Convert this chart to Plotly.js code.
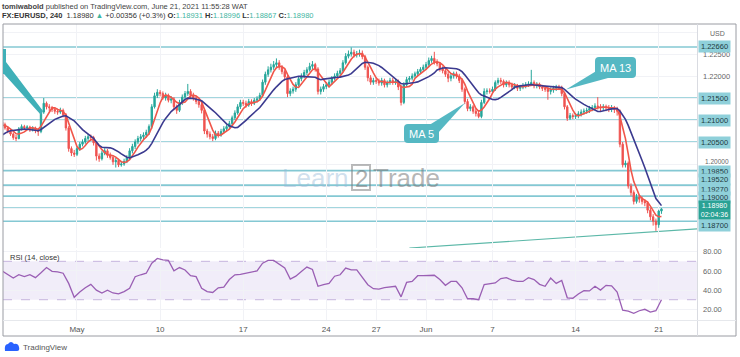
<!DOCTYPE html>
<html><head><meta charset="utf-8">
<script src="https://cdn.plot.ly/plotly-3.0.1.min.js"></script>
<style>html,body{margin:0;padding:0;background:#fff;}#chart{width:740px;height:357px;}</style>
</head><body><div id="chart"></div>
<script>
// ---------- DATA (EURUSD, 4h candles; bar 0 = first candle of May 3) ----------
const firstBar = -27;
const open = [1.2095,1.2090,1.2082,
1.2075,1.2068,1.2060,1.2058,1.2080,1.2085,
1.2082,1.2084,1.2078,1.2082,1.2076,1.2074,
1.2118,1.2138,1.2130,1.2128,1.2124,1.2120,
1.2118,1.2122,1.2112,1.2082,1.2035,1.2025,
1.2022,1.2035,1.2045,1.2050,1.2058,1.2062,
1.2060,1.2048,1.2018,1.2012,1.2025,1.2030,
1.2020,1.2015,1.2005,1.2008,1.1998,1.2000,
1.2006,1.2014,1.2030,1.2040,1.2050,1.2058,
1.2062,1.2066,1.2072,1.2085,1.2130,1.2155,
1.2163,1.2160,1.2150,1.2156,1.2145,1.2148,
1.2130,1.2122,1.2140,1.2152,1.2160,1.2165,
1.2156,1.2150,1.2142,1.2135,1.2122,1.2075,
1.2068,1.2062,1.2058,1.2070,1.2066,1.2074,
1.2080,1.2085,1.2092,1.2105,1.2116,1.2130,
1.2140,1.2138,1.2134,1.2142,1.2138,1.2145,
1.2148,1.2156,1.2186,1.2204,1.2214,1.2220,
1.2226,1.2230,1.2220,1.2210,1.2198,1.2160,
1.2166,1.2170,1.2180,1.2194,1.2200,1.2208,
1.2214,1.2222,1.2226,1.2216,1.2165,1.2170,
1.2176,1.2180,1.2186,1.2195,1.2200,1.2206,
1.2212,1.2230,1.2245,1.2250,1.2254,1.2248,
1.2250,1.2252,1.2244,1.2220,1.2196,1.2186,
1.2190,1.2188,1.2184,1.2190,1.2180,1.2185,
1.2190,1.2186,1.2188,1.2175,1.2140,1.2180,
1.2192,1.2195,1.2200,1.2205,1.2210,1.2215,
1.2220,1.2226,1.2235,1.2240,1.2232,1.2228,
1.2216,1.2212,1.2204,1.2195,1.2200,1.2205,
1.2200,1.2190,1.2170,1.2142,1.2126,1.2130,
1.2120,1.2115,1.2108,1.2140,1.2165,1.2166,
1.2165,1.2170,1.2185,1.2190,1.2188,1.2180,
1.2185,1.2180,1.2175,1.2178,1.2172,1.2175,
1.2178,1.2180,1.2182,1.2185,1.2178,1.2180,
1.2175,1.2172,1.2170,1.2165,1.2168,1.2172,
1.2175,1.2174,1.2160,1.2130,1.2104,1.2110,
1.2108,1.2110,1.2114,1.2118,1.2120,1.2122,
1.2126,1.2128,1.2132,1.2130,1.2128,1.2130,
1.2128,1.2125,1.2128,1.2124,1.2120,1.2045,
1.1998,1.2002,1.1950,1.1935,1.1915,1.1925,
1.1920,1.1915,1.1912,1.1895,1.1880,1.1870,
1.1862,1.18931];
const high = [1.2100,1.2094,1.2086,
1.2080,1.2072,1.2066,1.2084,1.2090,1.2089,
1.2088,1.2087,1.2086,1.2085,1.2080,1.2124,
1.2150,1.2142,1.2136,1.2132,1.2128,1.2126,
1.2128,1.2126,1.2116,1.2086,1.2040,1.2032,
1.2040,1.2050,1.2056,1.2064,1.2068,1.2067,
1.2064,1.2052,1.2024,1.2030,1.2036,1.2034,
1.2026,1.2020,1.2014,1.2012,1.2006,1.2012,
1.2020,1.2036,1.2046,1.2056,1.2064,1.2068,
1.2072,1.2078,1.2090,1.2136,1.2162,1.2170,
1.2168,1.2165,1.2162,1.2160,1.2154,1.2152,
1.2135,1.2146,1.2158,1.2166,1.2182,1.2170,
1.2162,1.2155,1.2148,1.2140,1.2126,1.2080,
1.2074,1.2068,1.2076,1.2075,1.2080,1.2086,
1.2090,1.2098,1.2110,1.2122,1.2136,1.2146,
1.2146,1.2144,1.2148,1.2147,1.2150,1.2154,
1.2162,1.2192,1.2210,1.2222,1.2228,1.2234,
1.2240,1.2236,1.2225,1.2215,1.2202,1.2172,
1.2176,1.2186,1.2200,1.2206,1.2214,1.2220,
1.2230,1.2234,1.2230,1.2220,1.2176,1.2182,
1.2186,1.2192,1.2200,1.2206,1.2212,1.2218,
1.2236,1.2252,1.2258,1.2265,1.2260,1.2257,
1.2260,1.2258,1.2248,1.2224,1.2202,1.2196,
1.2196,1.2194,1.2196,1.2194,1.2190,1.2196,
1.2196,1.2194,1.2192,1.2180,1.2186,1.2198,
1.2200,1.2206,1.2210,1.2216,1.2220,1.2226,
1.2232,1.2242,1.2246,1.2255,1.2238,1.2232,
1.2222,1.2216,1.2210,1.2206,1.2210,1.2210,
1.2205,1.2194,1.2174,1.2148,1.2136,1.2134,
1.2126,1.2120,1.2146,1.2172,1.2172,1.2172,
1.2176,1.2190,1.2196,1.2196,1.2192,1.2190,
1.2190,1.2185,1.2184,1.2182,1.2180,1.2184,
1.2186,1.2188,1.2214,1.2190,1.2186,1.2185,
1.2180,1.2178,1.2176,1.2174,1.2178,1.2180,
1.2180,1.2178,1.2164,1.2134,1.2116,1.2115,
1.2116,1.2120,1.2124,1.2126,1.2128,1.2132,
1.2134,1.2138,1.2152,1.2136,1.2136,1.2135,
1.2134,1.2134,1.2132,1.2130,1.2124,1.2050,
1.2008,1.2006,1.1956,1.1940,1.1932,1.1930,
1.1926,1.1920,1.1916,1.1900,1.1886,1.1876,
1.1896,1.18996];
const low = [1.2086,1.2078,1.2070,
1.2064,1.2055,1.2052,1.2056,1.2076,1.2077,
1.2078,1.2073,1.2074,1.2070,1.2064,1.2070,
1.2114,1.2124,1.2120,1.2118,1.2114,1.2112,
1.2114,1.2106,1.2076,1.2028,1.2018,1.2016,
1.2018,1.2030,1.2040,1.2046,1.2052,1.2054,
1.2042,1.2008,1.2005,1.2008,1.2020,1.2014,
1.2010,1.1998,1.1992,1.1993,1.1994,1.1996,
1.2002,1.2010,1.2024,1.2034,1.2045,1.2052,
1.2056,1.2060,1.2066,1.2080,1.2126,1.2150,
1.2154,1.2146,1.2144,1.2140,1.2138,1.2122,
1.2114,1.2118,1.2134,1.2146,1.2155,1.2150,
1.2144,1.2136,1.2128,1.2115,1.2068,1.2060,
1.2056,1.2052,1.2054,1.2060,1.2062,1.2070,
1.2075,1.2080,1.2088,1.2100,1.2112,1.2125,
1.2132,1.2128,1.2130,1.2132,1.2134,1.2140,
1.2144,1.2152,1.2180,1.2198,1.2208,1.2214,
1.2220,1.2214,1.2204,1.2190,1.2152,1.2154,
1.2160,1.2164,1.2176,1.2188,1.2195,1.2202,
1.2210,1.2216,1.2210,1.2158,1.2158,1.2164,
1.2170,1.2174,1.2180,1.2190,1.2196,1.2200,
1.2208,1.2226,1.2240,1.2244,1.2242,1.2242,
1.2244,1.2238,1.2214,1.2188,1.2180,1.2180,
1.2182,1.2178,1.2178,1.2174,1.2174,1.2180,
1.2180,1.2180,1.2168,1.2133,1.2136,1.2176,
1.2186,1.2190,1.2196,1.2200,1.2205,1.2210,
1.2214,1.2220,1.2230,1.2226,1.2222,1.2210,
1.2206,1.2198,1.2186,1.2188,1.2194,1.2194,
1.2184,1.2164,1.2136,1.2120,1.2120,1.2114,
1.2108,1.2104,1.2104,1.2136,1.2158,1.2160,
1.2160,1.2166,1.2180,1.2182,1.2174,1.2175,
1.2174,1.2170,1.2170,1.2166,1.2166,1.2170,
1.2172,1.2175,1.2178,1.2172,1.2172,1.2170,
1.2166,1.2164,1.2146,1.2158,1.2162,1.2166,
1.2168,1.2154,1.2124,1.2098,1.2100,1.2102,
1.2102,1.2104,1.2108,1.2112,1.2114,1.2116,
1.2120,1.2122,1.2124,1.2120,1.2122,1.2120,
1.2118,1.2118,1.2116,1.2110,1.2038,1.1992,
1.1992,1.1944,1.1928,1.1908,1.1910,1.1912,
1.1908,1.1904,1.1888,1.1872,1.1860,1.1848,
1.1855,1.18867];
const close = [1.2090,1.2082,1.2075,
1.2068,1.2060,1.2058,1.2080,1.2085,1.2082,
1.2084,1.2078,1.2082,1.2076,1.2074,1.2118,
1.2138,1.2130,1.2128,1.2124,1.2120,1.2118,
1.2122,1.2112,1.2082,1.2035,1.2025,1.2022,
1.2035,1.2045,1.2050,1.2058,1.2062,1.2060,
1.2048,1.2018,1.2012,1.2025,1.2030,1.2020,
1.2015,1.2005,1.2008,1.1998,1.2000,1.2006,
1.2014,1.2030,1.2040,1.2050,1.2058,1.2062,
1.2066,1.2072,1.2085,1.2130,1.2155,1.2163,
1.2160,1.2150,1.2156,1.2145,1.2148,1.2130,
1.2122,1.2140,1.2152,1.2160,1.2165,1.2156,
1.2150,1.2142,1.2135,1.2122,1.2075,1.2068,
1.2062,1.2058,1.2070,1.2066,1.2074,1.2080,
1.2085,1.2092,1.2105,1.2116,1.2130,1.2140,
1.2138,1.2134,1.2142,1.2138,1.2145,1.2148,
1.2156,1.2186,1.2204,1.2214,1.2220,1.2226,
1.2230,1.2220,1.2210,1.2198,1.2160,1.2166,
1.2170,1.2180,1.2194,1.2200,1.2208,1.2214,
1.2222,1.2226,1.2216,1.2165,1.2170,1.2176,
1.2180,1.2186,1.2195,1.2200,1.2206,1.2212,
1.2230,1.2245,1.2250,1.2254,1.2248,1.2250,
1.2252,1.2244,1.2220,1.2196,1.2186,1.2190,
1.2188,1.2184,1.2190,1.2180,1.2185,1.2190,
1.2186,1.2188,1.2175,1.2140,1.2180,1.2192,
1.2195,1.2200,1.2205,1.2210,1.2215,1.2220,
1.2226,1.2235,1.2240,1.2232,1.2228,1.2216,
1.2212,1.2204,1.2195,1.2200,1.2205,1.2200,
1.2190,1.2170,1.2142,1.2126,1.2130,1.2120,
1.2115,1.2108,1.2140,1.2165,1.2166,1.2165,
1.2170,1.2185,1.2190,1.2188,1.2180,1.2185,
1.2180,1.2175,1.2178,1.2172,1.2175,1.2178,
1.2180,1.2182,1.2185,1.2178,1.2180,1.2175,
1.2172,1.2170,1.2165,1.2168,1.2172,1.2175,
1.2174,1.2160,1.2130,1.2104,1.2110,1.2108,
1.2110,1.2114,1.2118,1.2120,1.2122,1.2126,
1.2128,1.2132,1.2130,1.2128,1.2130,1.2128,
1.2125,1.2128,1.2124,1.2120,1.2045,1.1998,
1.2002,1.1950,1.1935,1.1915,1.1925,1.1920,
1.1915,1.1912,1.1895,1.1880,1.1870,1.1862,
1.18931,1.18980];
// closes of the 12 bars before the visible window (inferred from where the MA lines start)
const warmupClose = [1.2025,1.2032,1.2040,1.2048,1.2055,1.2062,1.2068,1.2086,1.2085,1.2090,1.2088,1.2087];
// RSI(14) read every second bar, starting at firstBar
const rsiStep = 2;
const rsi = [60,56,52.6,56,54,56,53,58,63.5,59.5,59,57.6,47,32.5,
38,42.4,46,40,37,40,37,36,38.5,42,54,56,57.6,68,73,71.4,71,60,63.5,61,55,54,42,38.5,37.5,42.4,
43,51,56,56.5,57.6,58.5,60,68,71,71,67,63,51.5,54.5,59.5,64,61.5,44,45.6,47,54.5,56,63,61,61,
53.5,45.6,41.5,41,42.5,43,44,33,48,49,55,55,55.5,55.5,51,45,49,49,42.4,31,31,30,45.8,46.8,47.5,
52,53,50.5,49,49,53,51,46,44,52.6,47,50,32,31.5,36,39.5,39.2,44,40,45,44.5,38,19,18,15.8,18.5,
20,17,18.5,30];
const levels = [1.2266,1.215,1.21,1.205,1.1985,1.1952,1.1927,1.19,1.187];
const lastPrice = 1.18980, countdown = '02:04:36';
const dateTickBars = [0,30,60,90,108,126,150,180,210];
const dateTickText = ['May','10','17','24','27','Jun','7','14','21'];
const priceTicks = [1.19,1.195,1.2,1.205,1.21,1.215,1.22,1.225,1.23];
const priceTickText = ['','','','','','','1.22000','1.22500',''];
const roundPriceLabel = 1.2;   // scale label that sits just above the 1.19850 box
const rsiTicks = [20,40,60,80];
const rsiTickText = ['20.00','40.00','60.00','80.00'];
const rsiBand = [30,70];
const trendLine = {bar0:120, p0:1.1809, bar1:224, p1:1.18525};

// ---------- derived ----------
const bars = close.map((_, k) => firstBar + k);
const rsiBars = rsi.map((_, k) => firstBar + k * rsiStep);
const allClose = warmupClose.concat(close);
function sma(n){
  return close.map((_, k) => { const j = k + warmupClose.length; let s = 0;
    for (let t = j - n + 1; t <= j; t++) s += allClose[t]; return s / n; });
}

// ---------- layout helpers (pixel -> paper) ----------
const W = 740, H = 357;
const PX = x => x / W, PY = y => 1 - y / H;
function rr(x0,y0,x1,y1,r){
  return `M${PX(x0+r)},${PY(y0)} L${PX(x1-r)},${PY(y0)} Q${PX(x1)},${PY(y0)} ${PX(x1)},${PY(y0+r)} L${PX(x1)},${PY(y1-r)} Q${PX(x1)},${PY(y1)} ${PX(x1-r)},${PY(y1)} L${PX(x0+r)},${PY(y1)} Q${PX(x0)},${PY(y1)} ${PX(x0)},${PY(y1-r)} L${PX(x0)},${PY(y0+r)} Q${PX(x0)},${PY(y0)} ${PX(x0+r)},${PY(y0)} Z`;
}
function poly(pts){ return 'M' + pts.map(p => PX(p[0]) + ',' + PY(p[1])).join(' L') + ' Z'; }
const FONT = 'Liberation Sans, Arial, sans-serif';
const TEAL = '#55b8c3';
const LINE = '#84c8d3';

const traces = [
  {type:'candlestick', x:bars, open:open, high:high, low:low, close:close,
   xaxis:'x', yaxis:'y', whiskerwidth:0, hoverinfo:'skip', showlegend:false,
   increasing:{line:{color:'#26a69a', width:1}, fillcolor:'#26a69a'},
   decreasing:{line:{color:'#ef5350', width:1}, fillcolor:'#ef5350'}},
  {type:'scatter', mode:'lines', x:bars, y:sma(5), xaxis:'x', yaxis:'y',
   line:{color:'#f0564a', width:1.6}, hoverinfo:'skip', showlegend:false},
  {type:'scatter', mode:'lines', x:bars, y:sma(13), xaxis:'x', yaxis:'y',
   line:{color:'#3b3a8f', width:1.6}, hoverinfo:'skip', showlegend:false},
  {type:'scatter', mode:'lines', x:rsiBars, y:rsi, xaxis:'x', yaxis:'y2',
   line:{color:'#9a5fb4', width:1.3}, hoverinfo:'skip', showlegend:false}
];

const shapes = [];
const P = (o) => shapes.push(Object.assign({xref:'paper', yref:'paper'}, o));
// RSI band (paper x, data y)
shapes.push({type:'rect', xref:'paper', x0:PX(3), x1:PX(697), yref:'y2', y0:rsiBand[0], y1:rsiBand[1],
  fillcolor:'rgba(149,117,205,0.13)', line:{width:0}, layer:'below'});
rsiBand.forEach(v => shapes.push({type:'line', xref:'paper', x0:PX(3), x1:PX(697), yref:'y2', y0:v, y1:v,
  line:{color:'#c6b4dd', width:1, dash:'dash'}, layer:'below'}));
// horizontal levels
levels.forEach(v => shapes.push({type:'line', xref:'paper', x0:PX(3), x1:PX(697), yref:'y', y0:v, y1:v,
  line:{color:LINE, width:1.6}, layer:'below'}));
// trend line
shapes.push({type:'line', xref:'x', yref:'y', x0:trendLine.bar0, y0:trendLine.p0, x1:trendLine.bar1, y1:trendLine.p1,
  line:{color:'#5cb8a8', width:1.2}, layer:'below'});
// frame & separators
P({type:'rect', x0:PX(3), x1:PX(736), y0:PY(336), y1:PY(24), line:{color:'#9a9ca3', width:1}});
P({type:'line', x0:PX(697.5), x1:PX(697.5), y0:PY(336), y1:PY(24), line:{color:'#d9dbe1', width:1}});
P({type:'line', x0:PX(3), x1:PX(736), y0:PY(320.5), y1:PY(320.5), line:{color:'#e6e8ec', width:1}});
// callouts
P({type:'path', path:poly([[598,70],[608,78],[566,89.5]]), fillcolor:TEAL, line:{width:0}});
P({type:'path', path:rr(595,57,636,78,4), fillcolor:TEAL, line:{width:0}});
P({type:'path', path:poly([[426,127],[438,133],[465,103]]), fillcolor:TEAL, line:{width:0}});
P({type:'path', path:rr(404,124,439,143,4), fillcolor:TEAL, line:{width:0}});
P({type:'path', path:poly([[3,49],[6,49],[6,62],[43,111],[41,115],[4,74],[3,74]]), fillcolor:'#3fb0b8', line:{width:0}});
// watermark "2" box
P({type:'rect', x0:PX(352), x1:PX(370), y0:PY(190), y1:PY(165), line:{color:'rgba(120,120,120,0.5)', width:2}});
// TradingView logo (cloud)
P({type:'path',
  path:`M${PX(5)},${PY(351)} L${PX(17)},${PY(351)} Q${PX(20)},${PY(351)} ${PX(19)},${PY(347)} Q${PX(18)},${PY(343)} ${PX(14)},${PY(344)} Q${PX(11)},${PY(340)} ${PX(8)},${PY(344)} Q${PX(4)},${PY(344)} ${PX(5)},${PY(351)} Z`,
  fillcolor:'#2962ff', line:{width:0}});

const ann = [];
const A = (o) => ann.push(Object.assign({showarrow:false, xanchor:'center', yanchor:'middle',
  font:{family:FONT, size:8, color:'#333'}}, o));
// header
A({xref:'paper', yref:'paper', x:PX(0), y:PY(6), xanchor:'left',
   text:'<b>tomiwabold</b> published on TradingView.com, June 21, 2021 11:55:28 WAT', font:{family:FONT, size:7.5, color:'#444'}});
const g = s => `<span style="color:#3fb59f">${s}</span>`;
A({xref:'paper', yref:'paper', x:PX(0), y:PY(16), xanchor:'left',
   text:`<b>FX:EURUSD, 240</b>  1.18980 ${g('▲')} +0.00356 (+0.3%) <b>O:</b>${g('1.18931')} <b>H:</b>${g('1.18996')} <b>L:</b>${g('1.18867')} <b>C:</b>${g('1.18980')}`,
   font:{family:FONT, size:7.5, color:'#333'}});
// currency
A({xref:'paper', yref:'paper', x:PX(727), y:PY(33), xanchor:'right', text:'USD', font:{family:FONT, size:7, color:'#666'}});
// round scale label squeezed above the 1.19850 box
A({xref:'paper', yref:'y', x:PX(702.5), y:roundPriceLabel, xanchor:'left', yshift:2.5,
   text:roundPriceLabel.toFixed(5), font:{family:FONT, size:6.5, color:'#666'}});
// level labels
const shift = {'1.1952':6, '1.1927':7, '1.19':11, '1.187':-4};
levels.forEach(v => A({xref:'paper', yref:'y', x:PX(698), y:v, xanchor:'left',
   yshift:(shift[String(v)]||0) - (v === 1.1985 ? 1 : 0), text:v.toFixed(5), width:29, align:'center', bgcolor:'#8fd0da', borderpad:1,
   font:{family:FONT, size:7.5, color:'#1d3a40'}}));
A({xref:'paper', yref:'y', x:PX(698), y:lastPrice, xanchor:'left', yshift:-1,
   text:lastPrice.toFixed(5)+'<br>'+countdown, width:29, align:'center', bgcolor:'#2aa295', borderpad:1,
   font:{family:FONT, size:7, color:'#fff'}});
// callout texts
A({xref:'paper', yref:'paper', x:PX(615.5), y:PY(67.5), text:'MA 13', font:{family:FONT, size:11, color:'#fff'}});
A({xref:'paper', yref:'paper', x:PX(421.5), y:PY(133.5), text:'MA 5', font:{family:FONT, size:11, color:'#fff'}});
// RSI title
A({xref:'paper', yref:'paper', x:PX(8), y:PY(257), xanchor:'left', text:'RSI (14, close)', font:{family:FONT, size:7.5, color:'#333'}});
// watermark
A({xref:'paper', yref:'paper', x:PX(351), y:PY(178), xanchor:'right', text:'Learn', font:{family:FONT, size:26, color:'rgba(150,185,215,0.45)'}});
A({xref:'paper', yref:'paper', x:PX(361), y:PY(178), text:'2', font:{family:FONT, size:24, color:'rgba(110,110,110,0.55)'}});
A({xref:'paper', yref:'paper', x:PX(371), y:PY(178), xanchor:'left', text:'Trade', font:{family:FONT, size:26, color:'rgba(110,110,110,0.5)'}});
// bottom brand
A({xref:'paper', yref:'paper', x:PX(21), y:PY(347), xanchor:'left', text:'TradingView', font:{family:FONT, size:8, color:'#555'}});

const layout = {
  width:W, height:H, margin:{l:0, r:0, t:0, b:0}, paper_bgcolor:'#fff', plot_bgcolor:'#fff',
  font:{family:FONT, size:8, color:'#555'}, showlegend:false, dragmode:false, hovermode:false,
  xaxis:{domain:[PX(3), PX(697)], range:[-26.71, 223.83], anchor:'y2', rangeslider:{visible:false},
    tickvals:dateTickBars, ticktext:dateTickText, ticks:'', ticklabelstandoff:3,
    tickfont:{family:FONT, size:8, color:'#555'}, showgrid:true, gridcolor:'#f1f2f6', gridwidth:1,
    zeroline:false, showline:false},
  yaxis:{domain:[PY(248), PY(24)], range:[1.18091, 1.23182], side:'right', anchor:'x',
    tickvals:priceTicks, ticktext:priceTickText, ticks:'', ticklabelstandoff:5,
    tickfont:{family:FONT, size:7.5, color:'#666'}, showgrid:true, gridcolor:'#f1f2f6', zeroline:false, showline:false},
  yaxis2:{domain:[PY(320), PY(250)], range:[8.85, 81.8], side:'right', anchor:'x',
    tickvals:rsiTicks, ticktext:rsiTickText, ticks:'', ticklabelstandoff:5,
    tickfont:{family:FONT, size:7.5, color:'#666'}, showgrid:true, gridcolor:'#f1f2f6', zeroline:false, showline:false},
  shapes:shapes, annotations:ann
};
Plotly.newPlot('chart', traces, layout, {staticPlot:true, displayModeBar:false});
</script></body></html>
